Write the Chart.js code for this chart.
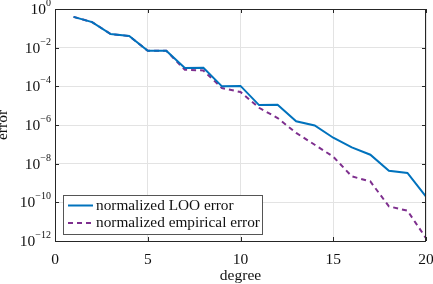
<!DOCTYPE html>
<html>
<head>
<meta charset="utf-8">
<script src="https://cdn.jsdelivr.net/npm/chart.js@4"></script>
<style>
html,body{margin:0;padding:0;background:#fff;}
#wrap{width:433px;height:284px;position:relative;}
</style>
</head>
<body>
<div id="wrap"><canvas id="c" width="433" height="284"></canvas></div>
<script>
const degrees = [1,2,3,4,5,6,7,8,9,10,11,12,13,14,15,16,17,18,19,20];
const looError = [0.39,0.21,0.051,0.040,0.0069,0.0070,8.9e-4,9.1e-4,1.0e-4,1.05e-4,1.07e-5,1.1e-5,1.55e-6,9.5e-7,2.2e-7,6.9e-8,2.9e-8,4.3e-9,3.3e-9,2.0e-10];
const empError = [0.39,0.21,0.051,0.040,0.0069,0.0069,7.2e-4,6.6e-4,8.1e-5,5.1e-5,7.8e-6,2.3e-6,3.9e-7,9.5e-8,2.3e-8,2.2e-9,1.2e-9,6.2e-11,3.7e-11,1.4e-12];
const seriesLabels = ['normalized LOO error','normalized empirical error'];
const xTicks = [0,5,10,15,20];
const yTickExponents = [0,-2,-4,-6,-8,-10,-12];
const xTitle = 'degree';
const yTitle = 'error';

const SERIF = '"Liberation Serif","DejaVu Serif",serif';
const BLUE = '#0072BD', PURPLE = '#7E2F8E';

const decor = {
  id: 'decor',
  afterDraw(chart) {
    const ctx = chart.ctx, ca = chart.chartArea;
    const xs = chart.scales.x, ys = chart.scales.y;
    ctx.save();
    // box
    ctx.strokeStyle = '#262626'; ctx.lineWidth = 1;
    ctx.strokeRect(ca.left + 0.5, ca.top + 0.5, ca.right - ca.left - 1, ca.bottom - ca.top);
    // inward ticks
    ctx.beginPath();
    xTicks.forEach(v => {
      const px = Math.round(xs.getPixelForValue(v)) + 0.5;
      ctx.moveTo(px, ca.bottom); ctx.lineTo(px, ca.bottom - 4);
      ctx.moveTo(px, ca.top); ctx.lineTo(px, ca.top + 4);
    });
    yTickExponents.forEach(e => {
      const py = Math.round(ys.getPixelForValue(Math.pow(10, e))) + 0.5;
      ctx.moveTo(ca.left, py); ctx.lineTo(ca.left + 4, py);
      ctx.moveTo(ca.right, py); ctx.lineTo(ca.right - 4, py);
    });
    ctx.stroke();
    // x tick labels
    ctx.fillStyle = '#111';
    ctx.font = '15.5px ' + SERIF;
    ctx.textAlign = 'center'; ctx.textBaseline = 'alphabetic';
    xTicks.forEach(v => {
      ctx.fillText(String(v), xs.getPixelForValue(v), ca.bottom + 23);
    });
    // y tick labels with superscript exponent
    yTickExponents.forEach(e => {
      const py = ys.getPixelForValue(Math.pow(10, e));
      const expStr = e === 0 ? '0' : '\u2212' + String(-e);
      ctx.font = '10px ' + SERIF;
      const ew = ctx.measureText(expStr).width;
      ctx.textAlign = 'left';
      const right = ca.left - 4;
      ctx.fillText(expStr, right - ew, py - 3);
      ctx.font = '15.5px ' + SERIF;
      const bw = ctx.measureText('10').width;
      ctx.fillText('10', right - ew - bw, py + 5);
    });
    // axis titles
    ctx.font = '15.5px ' + SERIF;
    ctx.textAlign = 'center';
    ctx.fillText(xTitle, (ca.left + ca.right) / 2, ca.bottom + 39);
    ctx.save();
    ctx.translate(7, (ca.top + ca.bottom) / 2);
    ctx.rotate(-Math.PI / 2);
    ctx.fillText(yTitle, 0, 0);
    ctx.restore();
    // legend
    const lx = ca.left + 8, ly = ca.bottom - 46, lw = 199, lh = 39;
    ctx.fillStyle = '#fff';
    ctx.fillRect(lx, ly, lw, lh);
    ctx.strokeStyle = '#555'; ctx.lineWidth = 1;
    ctx.strokeRect(lx + 0.5, ly + 0.5, lw, lh);
    const ds = chart.data.datasets;
    ds.forEach((d, i) => {
      const yy = ly + 10.5 + i * 17.5;
      ctx.strokeStyle = d.borderColor; ctx.lineWidth = 2;
      ctx.setLineDash(d.borderDash || []);
      ctx.beginPath(); ctx.moveTo(lx + 5, yy); ctx.lineTo(lx + 30, yy); ctx.stroke();
      ctx.setLineDash([]);
      ctx.fillStyle = '#111';
      ctx.font = '15.3px ' + SERIF;
      ctx.textAlign = 'left'; ctx.textBaseline = 'middle';
      ctx.fillText(d.label, lx + 33, yy);
    });
    ctx.restore();
  }
};

new Chart(document.getElementById('c'), {
  type: 'line',
  data: {
    labels: degrees,
    datasets: [
      { label: seriesLabels[0], data: degrees.map((d, i) => ({x: d, y: looError[i]})), borderColor: BLUE, borderWidth: 2, pointRadius: 0, fill: false, tension: 0 },
      { label: seriesLabels[1], data: degrees.map((d, i) => ({x: d, y: empError[i]})), borderColor: PURPLE, borderWidth: 2, borderDash: [5, 4], pointRadius: 0, fill: false, tension: 0 }
    ]
  },
  options: {
    responsive: false,
    animation: false,
    devicePixelRatio: 1,
    layout: { padding: { left: 55, right: 7, top: 9, bottom: 43 } },
    plugins: { legend: { display: false }, tooltip: { enabled: false } },
    scales: {
      x: {
        type: 'linear', min: 0, max: 20,
        afterBuildTicks: s => { s.ticks = xTicks.map(v => ({value: v})); },
        ticks: { display: false },
        grid: { color: '#e3e3e3', drawTicks: false, lineWidth: 1 },
        border: { display: false }
      },
      y: {
        type: 'logarithmic', min: 1e-12, max: 1,
        afterBuildTicks: s => { s.ticks = yTickExponents.map(e => ({value: Math.pow(10, e)})); },
        ticks: { display: false },
        grid: { color: '#e3e3e3', drawTicks: false, lineWidth: 1 },
        border: { display: false }
      }
    }
  },
  plugins: [decor]
});
</script>
</body>
</html>
